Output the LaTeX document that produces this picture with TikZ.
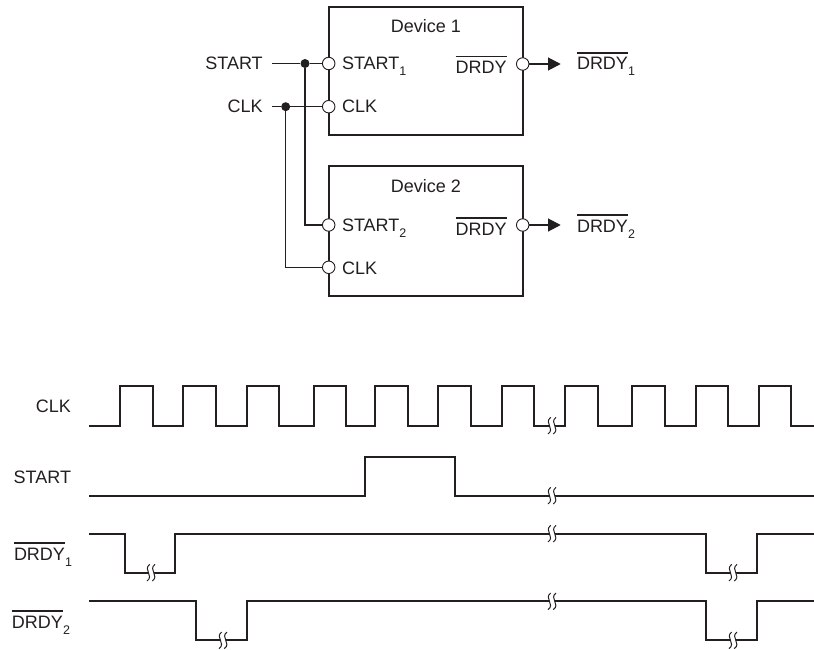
\documentclass[tikz,border=0pt]{standalone}
\usepackage{fontspec}
\setmainfont{Liberation Sans}
\usetikzlibrary{arrows.meta}
\definecolor{ink}{HTML}{231F20}
\newcommand{\ovl}[1]{\vbox{\hrule height 1.2pt \kern 4.1pt \hbox{#1}}}
\newcommand{\subd}[1]{\raisebox{-6pt}{\fontsize{12.5}{12.5}\selectfont #1}}
\tikzset{
  lbl/.style={inner sep=0pt,outer sep=0pt,text=ink,font=\fontsize{18}{20}\selectfont},
  lw/.style={lbl,anchor=base west},
  le/.style={lbl,anchor=base east},
  lc/.style={lbl,anchor=base},
  devbox/.style={draw=ink,line width=2.4pt,fill=white,minimum width=194pt,inner sep=0pt,outer sep=0pt,anchor=north west},
  pin/.style={circle,draw=ink,fill=white,line width=0.9pt,minimum size=12.5pt,inner sep=0pt},
  junction/.style={circle,fill=ink,minimum size=9pt,inner sep=0pt},
  wire/.style={draw=ink,line width=1.1pt},
  wave/.style={draw=ink,line width=2.2pt,line join=miter},
  brk/.pic={
    \fill[white] (-1,-8.3) .. controls (-8,-3) and (4,3) .. (-4,8.3) -- (1.5,8.3)
       .. controls (9.5,3) and (-2.5,-3) .. (4.5,-8.3) -- cycle;
    \draw[ink,line width=1pt] (-0.8,-8.3) .. controls (-8,-3) and (4,3) .. (-3.5,8.3);
    \draw[ink,line width=1pt] (4.5,-8.3) .. controls (-2.7,-3) and (9.3,3) .. (1.8,8.3);
  }
}
\begin{document}
\begin{tikzpicture}[x=1pt,y=-1pt]
\useasboundingbox (0,0) rectangle (814,650);
% device boxes
\node[devbox,minimum height=128pt] (dev1) at (328.7,7.2) {};
\node[devbox,minimum height=130pt] (dev2) at (328.7,166) {};
% pins
\node[pin] (p1s) at (328.7,63.5) {};
\node[pin] (p1c) at (328.7,106.7) {};
\node[pin] (p1d) at (522.7,64) {};
\node[pin] (p2s) at (328.7,225) {};
\node[pin] (p2c) at (328.7,267.3) {};
\node[pin] (p2d) at (522.7,225) {};
% junctions and free ends
\node[junction] (js) at (305,63.5) {};
\node[junction] (jc) at (285.7,106.7) {};
\coordinate (s0) at (272,63.5);
\coordinate (c0) at (272,106.7);
\coordinate (o1) at (560.7,64);
\coordinate (o2) at (560.7,225);
% connectors
\draw[wire] (s0) -- (js) -- (p1s);
\draw[wire] (c0) -- (jc) -- (p1c);
\draw[wire] (js) |- (p2s);
\draw[wire] (jc) |- (p2c);
\draw[wire,-{Triangle[length=12.7pt,width=13pt,color=ink,fill=ink]}] (p1d) -- (o1);
\draw[wire,-{Triangle[length=12.7pt,width=13pt,color=ink,fill=ink]}] (p2d) -- (o2);
% block labels
\node[lc] (t1) at (426,33) {Device 1};
\node[lc] (t2) at (426,192) {Device 2};
\node[le] (lstart) at (262.7,70) {START};
\node[le] (lclk) at (262.7,113) {CLK};
\node[lw] (i1s) at (342,70) {START\subd{1}};
\node[lw] (i1c) at (342,113) {CLK};
\node[lw] (i2s) at (342,231) {START\subd{2}};
\node[lw] (i2c) at (342,274) {CLK};
\node[lw] (i1d) at (455.7,73.3) {\ovl{DRDY}};
\node[lw] (i2d) at (455.7,235) {\ovl{DRDY}};
\node[lw] (o1l) at (577,70) {\ovl{DRDY}\subd{1}};
\node[lw] (o2l) at (577,232) {\ovl{DRDY}\subd{2}};
% timing labels
\node[le] (wclk) at (71,412.7) {CLK};
\node[le] (wstart) at (71,483) {START};
\node[lw] (wd1) at (14,560) {\ovl{DRDY}\subd{1}};
\node[lw] (wd2) at (12,628) {\ovl{DRDY}\subd{2}};
% waveforms
\draw[wave] (89,425.7) -- (120.3,425.7)
  -- (120.3,386.3) -- (152.7,386.3) -- (152.7,425.7) -- (183.3,425.7)
  -- (183.3,386.3) -- (216,386.3) -- (216,425.7) -- (247.3,425.7)
  -- (247.3,386.3) -- (279.3,386.3) -- (279.3,425.7) -- (314,425.7)
  -- (314,386.3) -- (346,386.3) -- (346,425.7) -- (375.3,425.7)
  -- (375.3,386.3) -- (407.7,386.3) -- (407.7,425.7) -- (438.3,425.7)
  -- (438.3,386.3) -- (470.7,386.3) -- (470.7,425.7) -- (501.7,425.7)
  -- (501.7,386.3) -- (534,386.3) -- (534,425.7) -- (565,425.7)
  -- (565,386.3) -- (597.7,386.3) -- (597.7,425.7) -- (632.3,425.7)
  -- (632.3,386.3) -- (664.7,386.3) -- (664.7,425.7) -- (695.7,425.7)
  -- (695.7,386.3) -- (728,386.3) -- (728,425.7) -- (759.3,425.7)
  -- (759.3,386.3) -- (791.3,386.3) -- (791.3,425.7) -- (814,425.7);
\draw[wave] (89,495.7) -- (365.3,495.7) -- (365.3,456.7) -- (454.7,456.7) -- (454.7,495.7) -- (814,495.7);
\draw[wave] (89,533.7) -- (124.7,533.7) -- (124.7,572.7) -- (175.3,572.7) -- (175.3,533.7)
  -- (705.7,533.7) -- (705.7,572.7) -- (757,572.7) -- (757,533.7) -- (814,533.7);
\draw[wave] (89,601.3) -- (195.7,601.3) -- (195.7,640.3) -- (246.7,640.3) -- (246.7,601.3)
  -- (705.7,601.3) -- (705.7,640.3) -- (757,640.3) -- (757,601.3) -- (814,601.3);
% break marks
\pic at (551.5,425.7) {brk};
\pic at (551.5,495.7) {brk};
\pic at (551.5,533.7) {brk};
\pic at (551.5,601.3) {brk};
\pic at (150.5,572.7) {brk};
\pic at (222.5,640.3) {brk};
\pic at (732.5,572.7) {brk};
\pic at (732.5,640.3) {brk};
\end{tikzpicture}
\end{document}
